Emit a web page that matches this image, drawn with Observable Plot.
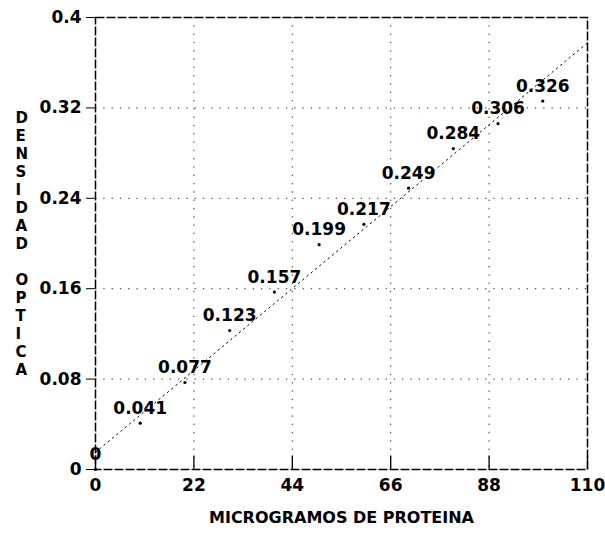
<!DOCTYPE html>
<html><head><meta charset="utf-8">
<script src="https://cdn.jsdelivr.net/npm/d3@7"></script>
<script src="https://cdn.jsdelivr.net/npm/@observablehq/plot@0.6"></script>
<style>body{margin:0;background:#fff;font-family:"DejaVu Sans",sans-serif}</style>
</head><body><div id="chart"></div>
<script>
const micrograms = [0, 10, 20, 30, 40, 50, 60, 70, 80, 90, 100];
const density = [0, 0.041, 0.077, 0.123, 0.157, 0.199, 0.217, 0.249, 0.284, 0.306, 0.326];
const xTicks = [0, 22, 44, 66, 88, 110];
const yTicks = [0, 0.08, 0.16, 0.24, 0.32, 0.4];
const xLabel = "MICROGRAMOS DE PROTEINA";
const yLabelWords = ["DENSIDAD", "OPTICA"];

const data = micrograms.map((x, i) => ({x, y: density[i]}));
// least-squares fit drawn across the x domain
const mx = d3.mean(micrograms), my = d3.mean(density);
const slope = d3.sum(data, d => (d.x - mx) * (d.y - my)) / d3.sum(data, d => (d.x - mx) ** 2);
const icpt = my - slope * mx;
const fit = [xTicks[0], xTicks[xTicks.length - 1]].map(x => ({x, y: icpt + slope * x}));
const yLabel = yLabelWords.map(w => w.split("").join("\n")).join("\n\n");

const chart = Plot.plot({
  width: 605, height: 535,
  marginLeft: 95, marginRight: 18, marginTop: 17, marginBottom: 66,
  style: {fontFamily: "'DejaVu Sans', sans-serif", fontSize: "15px", fontWeight: "bold", color: "#000"},
  x: {domain: [0, 110], ticks: xTicks},
  y: {domain: [0, 0.4], ticks: yTicks},
  marks: [
    Plot.gridX(xTicks.slice(1, -1), {stroke: "#000", strokeOpacity: 0.85, strokeDasharray: "1.3,7"}),
    Plot.gridY(yTicks.slice(1, -1), {stroke: "#000", strokeOpacity: 0.85, strokeDasharray: "1.3,7"}),
    Plot.frame({stroke: "#000", strokeWidth: 1.5, strokeDasharray: "9,2"}),
    Plot.ruleX(xTicks, {y1: 0, y2: 0.012, stroke: "#000", strokeWidth: 1.3}),
    Plot.axisX({ticks: xTicks, tickSize: 0, tickPadding: 9, tickFormat: d => String(d), fontSize: 17, fontWeight: "bold", label: null}),
    Plot.axisY({ticks: yTicks, tickSize: 9, tickPadding: 5, tickFormat: d => String(d), fontSize: 17, fontWeight: "bold", label: null}),
    Plot.text([xLabel], {frameAnchor: "bottom", dy: 53, fontSize: 16, fontWeight: "bold", text: d => d, style: "letter-spacing:1.5px"}),
    Plot.text([yLabel], {frameAnchor: "left", dx: -80, fontSize: 15, fontWeight: "bold", lineHeight: 1.2, text: d => d}),
    Plot.line(fit, {x: "x", y: "y", stroke: "#000", strokeWidth: 1, strokeDasharray: "1.5,4"}),
    Plot.dot(data, {x: "x", y: "y", r: 1.6, fill: "#000"}),
    Plot.text(data, {x: "x", y: "y", text: d => String(d.y), dy: -15, fontSize: 17, fontWeight: "bold", fill: "#000"})
  ]
});
document.getElementById("chart").appendChild(chart);
</script></body></html>
